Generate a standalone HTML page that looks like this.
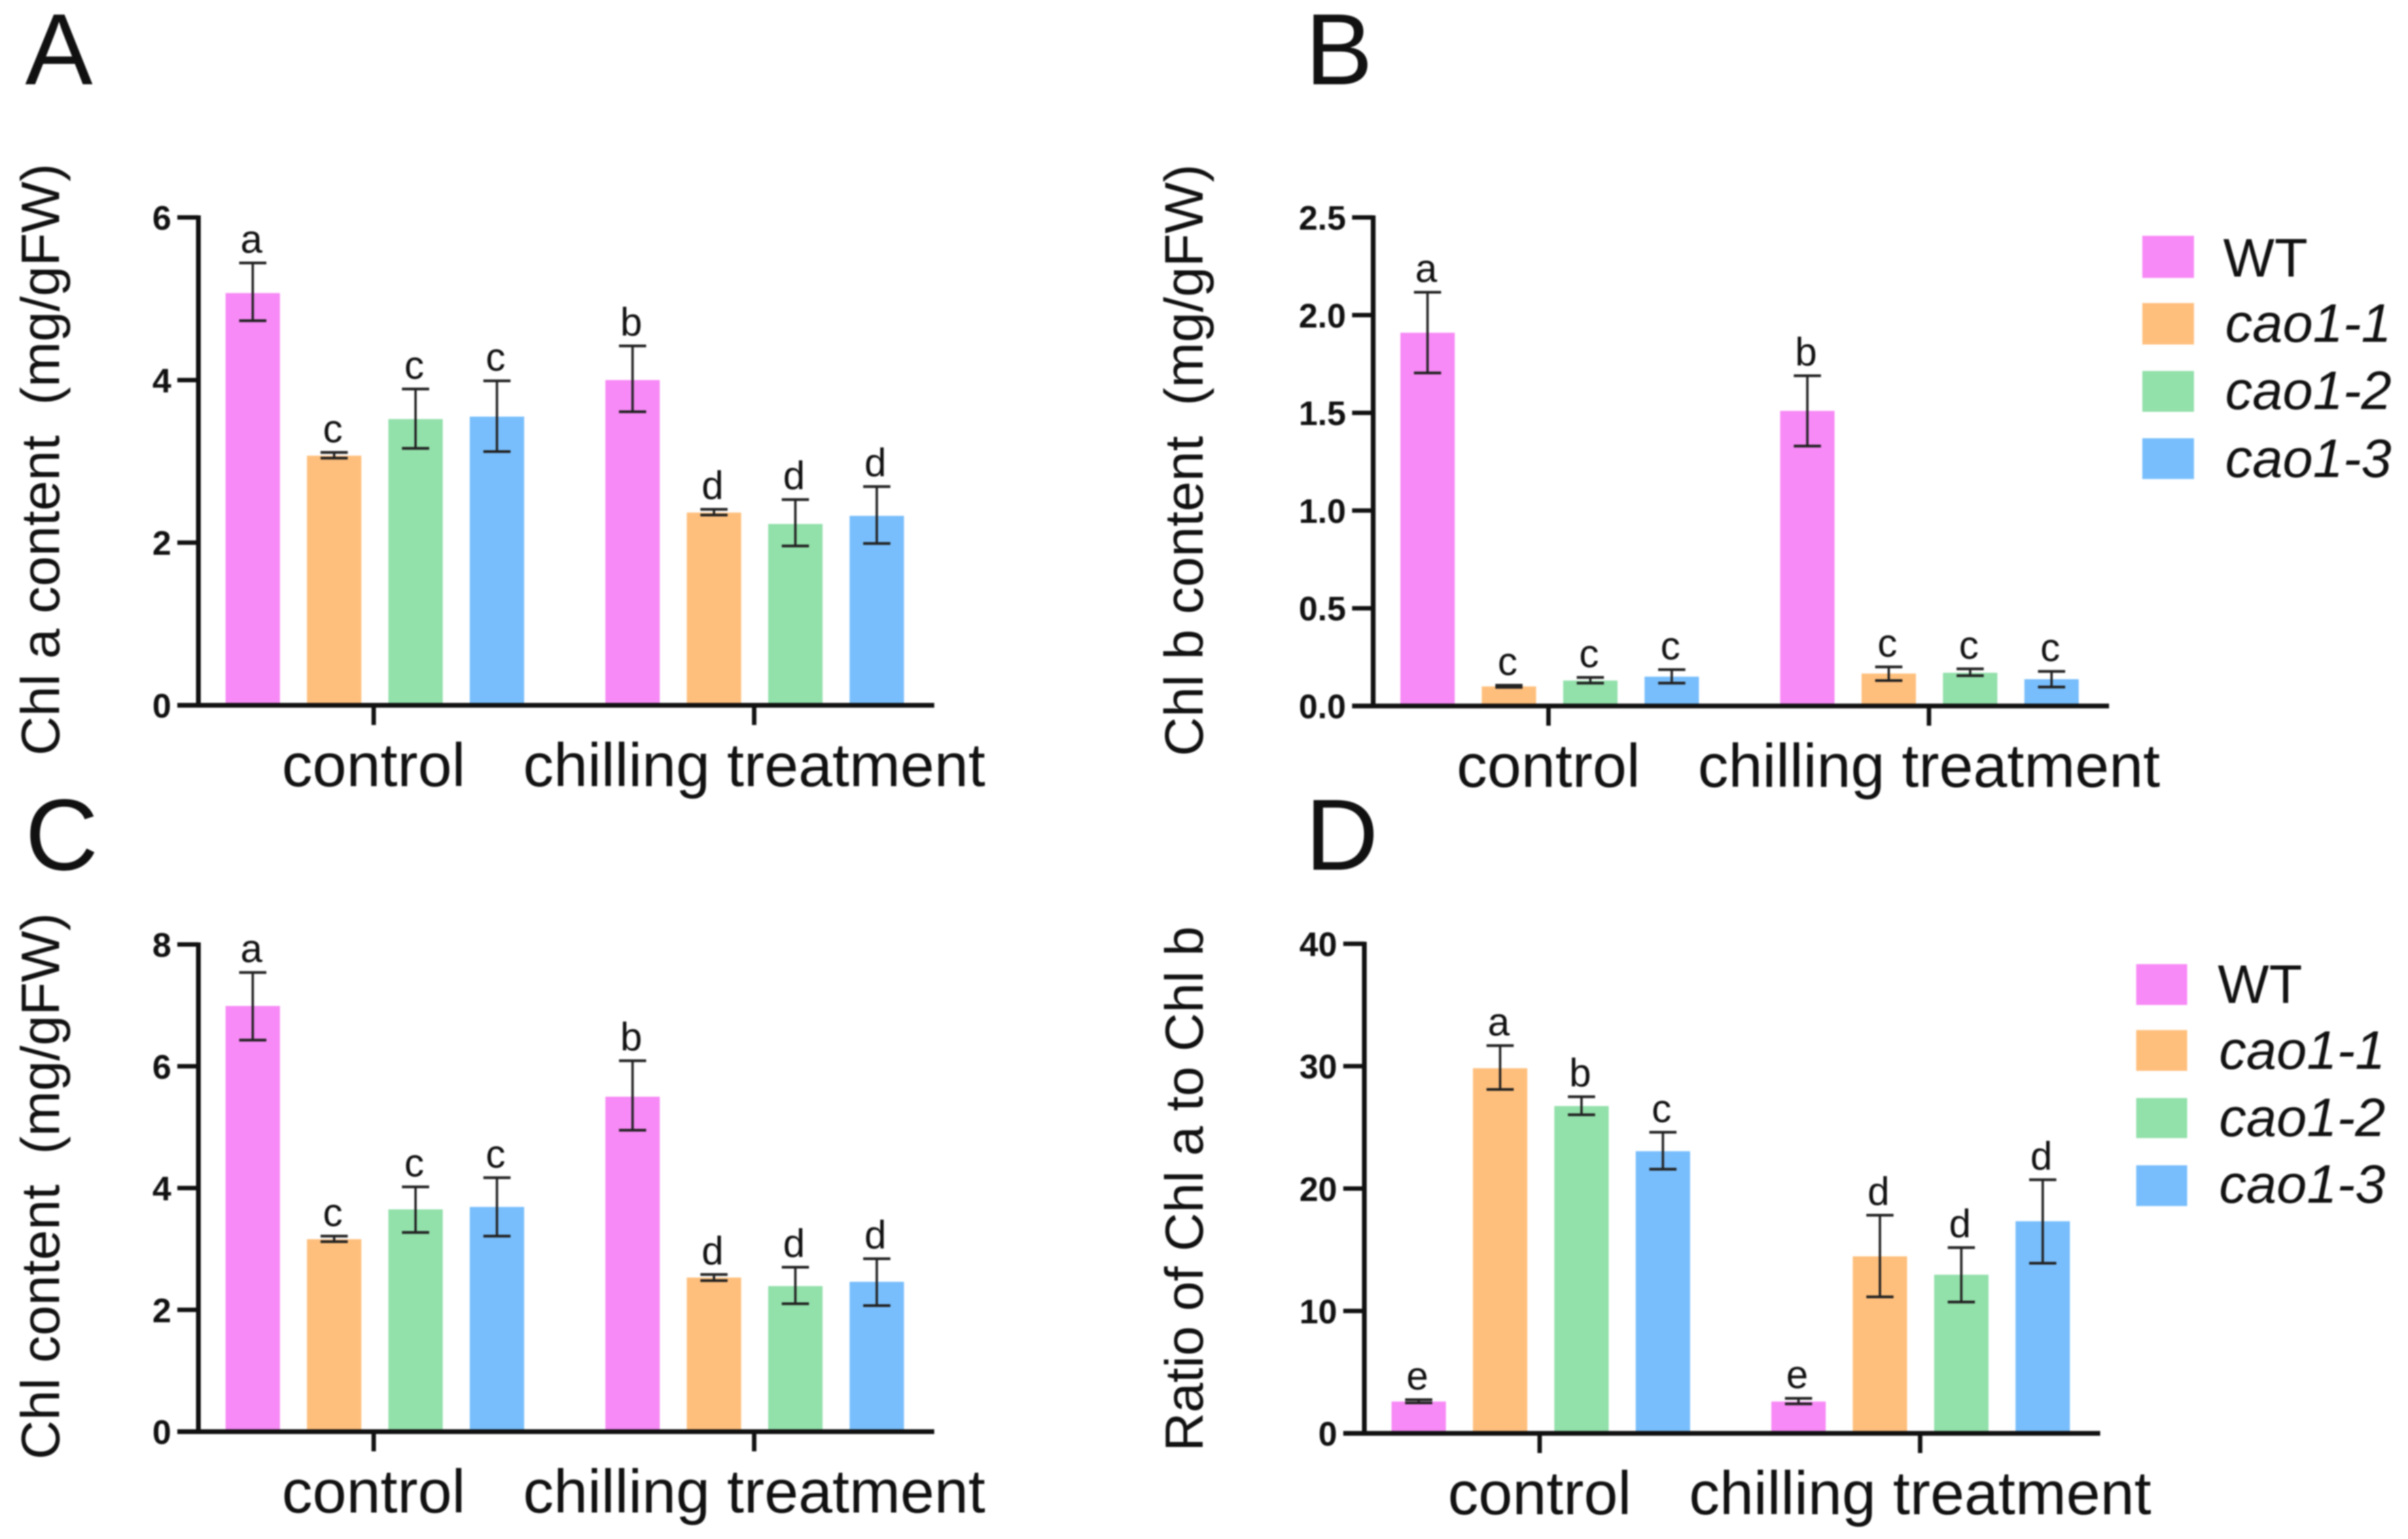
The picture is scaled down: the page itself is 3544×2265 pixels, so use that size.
<!DOCTYPE html>
<html lang="en">
<head>
<meta charset="utf-8">
<title>Chlorophyll content in WT and cao1 mutants</title>
<style>
html,body{margin:0;padding:0;background:#fff;width:3544px;height:2265px;overflow:hidden}
svg{display:block;filter:blur(1px)}
text{font-family:"Liberation Sans",Arial,sans-serif;fill:#111;white-space:pre}
.panel-letter{font-size:149px}
.axis-title{font-size:80px}
.legend-text{font-size:80px}
.legend-italic{font-style:italic}
</style>
</head>
<body>
<svg id="figure" xmlns="http://www.w3.org/2000/svg" width="3544" height="2265" viewBox="0 0 3544 2265">
  <rect x="0" y="0" width="3544" height="2265" fill="#ffffff"/>
  <text class="panel-letter" x="37" y="124">A</text>
  <text class="panel-letter" x="1921" y="124">B</text>
  <text class="panel-letter" x="37" y="1280">C</text>
  <text class="panel-letter" x="1921" y="1280">D</text>

  <text class="axis-title" transform="translate(87,1112) rotate(-90)">Chl a content  (mg/gFW)</text>
  <text class="axis-title" transform="translate(1770,1113) rotate(-90)">Chl b content  (mg/gFW)</text>
  <text class="axis-title" transform="translate(87,2148) rotate(-90)">Chl content  (mg/gFW)</text>
  <text class="axis-title" font-size="79" style="font-size:79px" transform="translate(1770,2136) rotate(-90)">Ratio of Chl a to Chl b</text>

  <g>
    <g><rect x="3153" y="347" width="76" height="62" fill="#f78af6"/><text class="legend-text" x="3272" y="407">WT</text></g>
    <g><rect x="3153" y="446" width="76" height="61" fill="#ffbf7c"/><text class="legend-text legend-italic" x="3275" y="503">cao1-1</text></g>
    <g><rect x="3153" y="546" width="76" height="60" fill="#92e0aa"/><text class="legend-text legend-italic" x="3275" y="602">cao1-2</text></g>
    <g><rect x="3153" y="645" width="76" height="60" fill="#78befc"/><text class="legend-text legend-italic" x="3275" y="702">cao1-3</text></g>
  </g>
  <g>
    <g><rect x="3144" y="1419" width="75" height="60" fill="#f78af6"/><text class="legend-text" x="3264" y="1476">WT</text></g>
    <g><rect x="3144" y="1516" width="75" height="60" fill="#ffbf7c"/><text class="legend-text legend-italic" x="3266" y="1573">cao1-1</text></g>
    <g><rect x="3144" y="1616" width="75" height="59" fill="#92e0aa"/><text class="legend-text legend-italic" x="3266" y="1672">cao1-2</text></g>
    <g><rect x="3144" y="1715" width="75" height="60" fill="#78befc"/><text class="legend-text legend-italic" x="3266" y="1770">cao1-3</text></g>
  </g>
</svg>
<script>
// Shared categories
const groupLabels = ['control', 'chilling treatment'];
const genotypes = ['WT', 'cao1-1', 'cao1-2', 'cao1-3'];

// Panel A: Chl a content
const ticksA = ['0', '2', '4', '6'];
const valuesA = [5.07, 3.07, 3.52, 3.55, 4.00, 2.37, 2.23, 2.33];
const upperA = [5.44, 3.11, 3.89, 3.99, 4.42, 2.41, 2.53, 2.69];
const lowerA = [4.73, 3.04, 3.16, 3.12, 3.61, 2.34, 1.96, 1.99];
const lettersA = ['a', 'c', 'c', 'c', 'b', 'd', 'd', 'd'];

// Panel B: Chl b content
const ticksB = ['0.0', '0.5', '1.0', '1.5', '2.0', '2.5'];
const valuesB = [1.91, 0.10, 0.13, 0.15, 1.51, 0.166, 0.17, 0.137];
const upperB = [2.117, 0.106, 0.146, 0.186, 1.69, 0.20, 0.19, 0.177];
const lowerB = [1.704, 0.095, 0.117, 0.117, 1.33, 0.13, 0.155, 0.097];
const lettersB = ['a', 'c', 'c', 'c', 'b', 'c', 'c', 'c'];

// Panel C: total Chl content
const ticksC = ['0', '2', '4', '6', '8'];
const valuesC = [6.99, 3.16, 3.65, 3.69, 5.50, 2.53, 2.39, 2.46];
const upperC = [7.54, 3.21, 4.02, 4.17, 6.09, 2.58, 2.70, 2.84];
const lowerC = [6.43, 3.12, 3.27, 3.21, 4.95, 2.48, 2.10, 2.07];
const lettersC = ['a', 'c', 'c', 'c', 'b', 'd', 'd', 'd'];

// Panel D: ratio of Chl a to Chl b
const ticksD = ['0', '10', '20', '30', '40'];
const valuesD = [2.6, 29.83, 26.74, 23.05, 2.6, 14.46, 12.96, 17.33];
const upperD = [2.75, 31.68, 27.5, 24.6, 2.86, 17.82, 15.18, 20.72];
const lowerD = [2.49, 28.1, 26.03, 21.58, 2.41, 11.15, 10.73, 13.9];
const lettersD = ['e', 'a', 'b', 'c', 'e', 'd', 'd', 'd'];

const SVG_NS = 'http://www.w3.org/2000/svg';
const figure = document.getElementById('figure');
const barColors = ['#f78af6', '#ffbf7c', '#92e0aa', '#78befc'];

function svgEl(tag, parent) {
  const el = document.createElementNS(SVG_NS, tag);
  parent.appendChild(el);
  return el;
}

function setLine(el, x1, y1, x2, y2, width, color) {
  el.setAttribute('x1', x1);
  el.setAttribute('y1', y1);
  el.setAttribute('x2', x2);
  el.setAttribute('y2', y2);
  el.setAttribute('stroke', color);
  el.setAttribute('stroke-width', width);
}

function drawPanel(id, axisX, yZero, yTop, ticks, values, upper, lower, letters) {
  const maxValue = parseFloat(ticks[ticks.length - 1]);
  const yOf = function (v) { return yZero - (v / maxValue) * (yZero - yTop); };
  const barWidth = 80;
  const barStep = 119.8;
  const groupOffset = [80, 639];
  const xOf = function (i) {
    const group = Math.floor(i / genotypes.length);
    const within = i % genotypes.length;
    return axisX + groupOffset[group] + within * barStep;
  };

  const panel = svgEl('g', figure);
  
  

  values.forEach(function (v, i) {
    const bar = svgEl('rect', panel);
    
    
    bar.setAttribute('x', xOf(i) - barWidth / 2);
    bar.setAttribute('y', yOf(v));
    bar.setAttribute('width', barWidth);
    bar.setAttribute('height', yZero - yOf(v));
    bar.setAttribute('fill', barColors[i % barColors.length]);
  });

  values.forEach(function (v, i) {
    const cx = xOf(i);
    const err = svgEl('g', panel);
    
    
    const stem = svgEl('line', err);
    
    
    setLine(stem, cx, yOf(upper[i]), cx, yOf(lower[i]), 3.5, '#222');
    const capTop = svgEl('line', err);
    
    
    setLine(capTop, cx - 20, yOf(upper[i]), cx + 20, yOf(upper[i]), 4, '#222');
    const capBottom = svgEl('line', err);
    
    
    setLine(capBottom, cx - 20, yOf(lower[i]), cx + 20, yOf(lower[i]), 4, '#222');

    const letter = svgEl('text', panel);
    
    
    letter.setAttribute('x', cx - 2);
    letter.setAttribute('y', yOf(upper[i]) - 15);
    letter.setAttribute('text-anchor', 'middle');
    letter.setAttribute('font-size', '58');
    letter.textContent = letters[i];
  });

  const yAxis = svgEl('line', panel);
  
  
  setLine(yAxis, axisX, yTop - 3, axisX, yZero + 3, 7, '#111');

  const xAxis = svgEl('line', panel);
  
  
  setLine(xAxis, axisX - 31, yZero, axisX + 1083, yZero, 7, '#111');

  ticks.forEach(function (t) {
    const y = yOf(parseFloat(t));
    if (parseFloat(t) !== 0) {
      const tick = svgEl('line', panel);
      
      
      setLine(tick, axisX - 31, y, axisX, y, 6.5, '#111');
    }
    const label = svgEl('text', panel);
    
    
    label.setAttribute('x', axisX - 40);
    label.setAttribute('y', y + 18);
    label.setAttribute('text-anchor', 'end');
    label.setAttribute('font-size', '50');
    label.setAttribute('font-weight', 'bold');
    label.textContent = t;
  });

  const groupTicks = [258, 818];
  groupLabels.forEach(function (name, g) {
    const gx = axisX + groupTicks[g];
    const tick = svgEl('line', panel);
    
    
    setLine(tick, gx, yZero, gx, yZero + 29, 6.5, '#111');
    const label = svgEl('text', panel);
    
    
    label.setAttribute('x', gx);
    label.setAttribute('y', yZero + 119);
    label.setAttribute('text-anchor', 'middle');
    label.setAttribute('font-size', '90');
    label.textContent = name;
  });
}

drawPanel('a', 292, 1038, 320, ticksA, valuesA, upperA, lowerA, lettersA);
drawPanel('b', 2021, 1039, 320, ticksB, valuesB, upperB, lowerB, lettersB);
drawPanel('c', 292, 2107, 1390, ticksC, valuesC, upperC, lowerC, lettersC);
drawPanel('d', 2008, 2109.5, 1389, ticksD, valuesD, upperD, lowerD, lettersD);
</script>
</body>
</html>
